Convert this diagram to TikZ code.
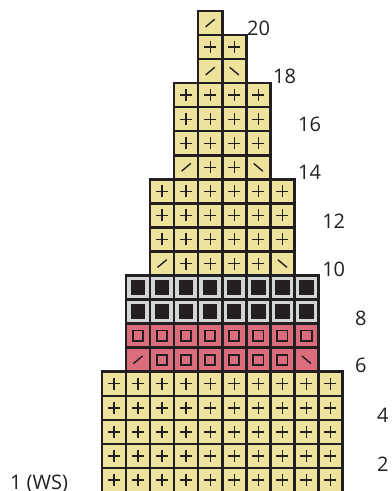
\documentclass[tikz,border=0pt]{standalone}
\usepackage{fontspec}
\setmainfont{Open Sans}
\usepackage{xcolor}
\definecolor{chartyellow}{HTML}{EEE39C}
\definecolor{chartpink}{HTML}{DA6C7C}
\definecolor{chartgray}{HTML}{D3D4D5}
\definecolor{chartink}{HTML}{231F20}
% stitch symbols, drawn round the cell centre
\newcommand{\stitchp}{\draw[knit] (-0.25,0) -- (0.25,0) (0,-0.25) -- (0,0.25);}
\newcommand{\stitchl}{\draw[knit] (-0.19,-0.16) -- (0.19,0.16);}
\newcommand{\stitchr}{\draw[knit] (-0.19,0.16) -- (0.19,-0.16);}
\newcommand{\stitcho}{\draw[knit, line width=1.9pt] (-0.215,-0.215) rectangle (0.215,0.215);}
\newcommand{\stitchb}{\fill[chartink] (-0.3,-0.3) rectangle (0.3,0.3);}

\begin{document}
\begin{tikzpicture}[
  x=24.05pt, y=24.05pt,
  cell/.style={draw=chartink, line width=2.5pt},
  knit/.style={draw=chartink, line width=1.4pt},
  rowlabel/.style={anchor=base west, inner sep=0pt, text=chartink,
                   font=\fontsize{20}{20}\selectfont}
]
  \useasboundingbox (-4.241,0.0416) rectangle (12.017,20.457);
  % rows: row / first column / colour / stitches
  \foreach \r/\c/\fc/\syms in {
    1/1/chartyellow/{p,p,p,p,p,p,p,p,p,p},
    2/1/chartyellow/{p,p,p,p,p,p,p,p,p,p},
    3/1/chartyellow/{p,p,p,p,p,p,p,p,p,p},
    4/1/chartyellow/{p,p,p,p,p,p,p,p,p,p},
    5/1/chartyellow/{p,p,p,p,p,p,p,p,p,p},
    6/2/chartpink/{l,o,o,o,o,o,o,r},
    7/2/chartpink/{o,o,o,o,o,o,o,o},
    8/2/chartgray/{b,b,b,b,b,b,b,b},
    9/2/chartgray/{b,b,b,b,b,b,b,b},
    10/3/chartyellow/{l,p,p,p,p,r},
    11/3/chartyellow/{p,p,p,p,p,p},
    12/3/chartyellow/{p,p,p,p,p,p},
    13/3/chartyellow/{p,p,p,p,p,p},
    14/4/chartyellow/{l,p,p,r},
    15/4/chartyellow/{p,p,p,p},
    16/4/chartyellow/{p,p,p,p},
    17/4/chartyellow/{p,p,p,p},
    18/5/chartyellow/{l,r},
    19/5/chartyellow/{p,p},
    20/5/chartyellow/{l}}
  {
    \foreach \s [count=\i from 0] in \syms {
      \draw[cell, fill=\fc] (\c+\i-1,\r-1) rectangle ++(1,1);
      \begin{scope}[shift={(\c+\i-0.5,\r-0.5)}]
        \csname stitch\s\endcsname
      \end{scope}
    }
  }
  % row numbers
  \foreach \n/\x/\y in {20/6.03/18.98, 18/7.11/16.98, 16/8.15/14.98,
                        14/8.15/12.98, 12/9.15/10.96, 10/9.15/8.94,
                        8/10.52/6.94, 6/10.52/4.95, 4/11.43/2.87, 2/11.43/0.86}
    \node[rowlabel] (row\n) at (\x,\y) {\n};
  \node[rowlabel] (rowws) at (-3.83,0.1) {1 (WS)};
\end{tikzpicture}
\end{document}
